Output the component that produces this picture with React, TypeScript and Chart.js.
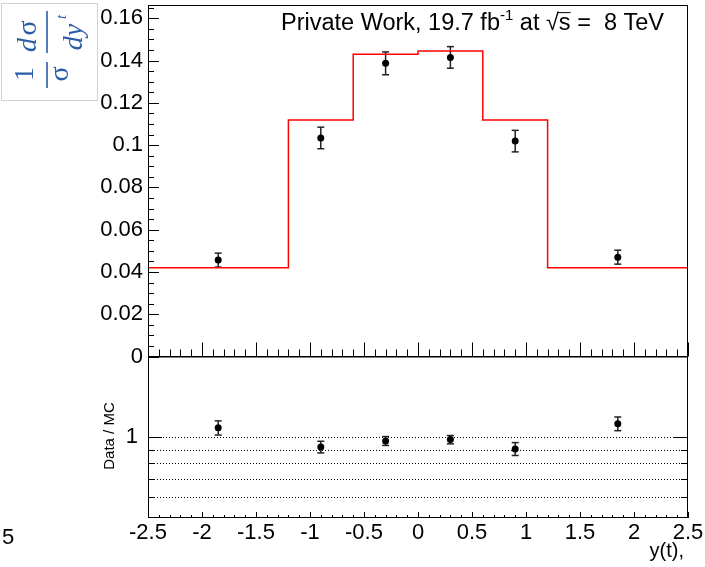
import React, { useEffect, useRef } from 'react';
import { Chart, registerables } from 'chart.js';

Chart.register(...registerables);

// ---- values ----
const binEdges = [-2.5, -1.2, -0.6, 0, 0.6, 1.2, 2.5];
const mcValues = [0.042, 0.1119, 0.143, 0.1445, 0.1119, 0.042];
const dataX = [-1.85, -0.9, -0.3, 0.3, 0.9, 1.85];
const dataValues = [0.0456, 0.1034, 0.1387, 0.1415, 0.1019, 0.047];
const dataErrors = [0.0033, 0.0051, 0.0054, 0.0051, 0.0051, 0.0033];
const ratioValues = [1.085, 0.92, 0.969, 0.98, 0.905, 1.124];
const ratioErrors = [0.066, 0.046, 0.037, 0.035, 0.05, 0.066];
const ratioGridLines = [0.6, 0.7, 0.8, 0.9, 1.0];
const yTickValues = [0, 0.02, 0.04, 0.06, 0.08, 0.1, 0.12, 0.14, 0.16];
const xTickValues = [-2.5, -2, -1.5, -1, -0.5, 0, 0.5, 1, 1.5, 2, 2.5];

// ---- layout ----
const W = 705;
const H = 567;
const FRAME_LEFT = 148;
const FRAME_RIGHT = 688;
const TOP_Y = 5;
const SPLIT_Y = 356.5;
const BOTTOM_Y = 518;
const SANS = '"Liberation Sans", Arial, Helvetica, sans-serif';
const SERIF = '"Liberation Serif", "DejaVu Serif", serif';

const fmt = (v: number) => String(Number(v.toFixed(3)));

function line(ctx: CanvasRenderingContext2D, x1: number, y1: number, x2: number, y2: number) {
  ctx.beginPath();
  ctx.moveTo(x1, y1);
  ctx.lineTo(x2, y2);
  ctx.stroke();
}

function drawErrorBars(chart: any, xs: number[], ys: number[], errs: number[]) {
  const ctx = chart.ctx as CanvasRenderingContext2D;
  const sx = chart.scales.x;
  const sy = chart.scales.y;
  ctx.save();
  ctx.strokeStyle = '#222';
  ctx.lineWidth = 1.5;
  for (let i = 0; i < xs.length; i++) {
    const px = sx.getPixelForValue(xs[i]);
    const lo = sy.getPixelForValue(ys[i] - errs[i]);
    const hi = sy.getPixelForValue(ys[i] + errs[i]);
    line(ctx, px, lo, px, hi);
    line(ctx, px - 3.5, lo, px + 3.5, lo);
    line(ctx, px - 3.5, hi, px + 3.5, hi);
  }
  ctx.restore();
}

function drawXTicks(ctx: CanvasRenderingContext2D, sx: any, yBase: number, major: number, minor: number) {
  for (let i = 0; i <= 50; i++) {
    const v = -2.5 + i * 0.1;
    const px = Math.round(sx.getPixelForValue(v)) + 0.5;
    const len = i % 5 === 0 ? major : minor;
    line(ctx, px, yBase, px, yBase - len);
  }
}

function drawTitle(ctx: CanvasRenderingContext2D) {
  const size = 23.5;
  const main = `${size}px ${SANS}`;
  const sup = `${Math.round(size * 0.62)}px ${SANS}`;
  const pieces: { t: string; f: string; dy: number; over?: boolean }[] = [
    { t: 'Private Work, 19.7 fb', f: main, dy: 0 },
    { t: '-1', f: sup, dy: -size * 0.42 },
    { t: ' at ', f: main, dy: 0 },
    { t: '\u221A', f: main, dy: 0 },
    { t: 's', f: main, dy: 0, over: true },
    { t: ' =  8 TeV', f: main, dy: 0 },
  ];
  ctx.save();
  ctx.fillStyle = '#000';
  ctx.textBaseline = 'alphabetic';
  ctx.textAlign = 'left';
  let total = 0;
  for (const p of pieces) {
    ctx.font = p.f;
    total += ctx.measureText(p.t).width;
  }
  let x = 664 - total;
  const base = 30;
  for (const p of pieces) {
    ctx.font = p.f;
    ctx.fillText(p.t, x, base + p.dy);
    const w = ctx.measureText(p.t).width;
    if (p.over) {
      ctx.strokeStyle = '#000';
      ctx.lineWidth = 1;
      line(ctx, x - 1, base - size * 0.74, x + w, base - size * 0.74);
    }
    x += w;
  }
  ctx.restore();
}

function drawYLabel(ctx: CanvasRenderingContext2D) {
  ctx.save();
  ctx.strokeStyle = '#d2d2d2';
  ctx.lineWidth = 1;
  ctx.strokeRect(1.5, 3.5, 96, 97);
  // rotated frame: local (lx, ly) -> page (ly, 100 - lx)
  ctx.translate(0, 100);
  ctx.rotate(-Math.PI / 2);
  const blue = '#2a5ca6';
  ctx.fillStyle = blue;
  ctx.strokeStyle = blue;
  ctx.lineWidth = 1.6;
  ctx.textBaseline = 'alphabetic';
  ctx.textAlign = 'center';
  // 1 / sigma
  ctx.font = `28px ${SERIF}`;
  ctx.fillText('1', 26, 33);
  line(ctx, 12, 47, 38, 47);
  ctx.fillText('\u03C3', 26, 68);
  // d sigma / d y^t
  ctx.font = `italic 28px ${SERIF}`;
  ctx.fillText('d', 55, 36);
  ctx.font = `28px ${SERIF}`;
  ctx.fillText('\u03C3', 72, 36);
  line(ctx, 47, 47, 89, 47);
  ctx.font = `italic 28px ${SERIF}`;
  ctx.fillText('dy', 63, 82);
  ctx.font = `italic 15px ${SERIF}`;
  ctx.fillText('t', 83, 66);
  ctx.restore();
}

const topPanelPlugin = {
  id: 'topPanel',
  beforeDatasetsDraw(chart: any) {
    drawErrorBars(chart, dataX, dataValues, dataErrors);
  },
  afterDraw(chart: any) {
    const ctx = chart.ctx as CanvasRenderingContext2D;
    const { left, right, top, bottom } = chart.chartArea;
    const sx = chart.scales.x;
    const sy = chart.scales.y;
    ctx.save();
    ctx.strokeStyle = '#000';
    ctx.lineWidth = 1;
    ctx.strokeRect(left + 0.5, top + 0.5, right - left - 1, bottom - top);
    // y ticks: major every 0.02, minor every 0.005
    for (let i = 0; i * 0.005 <= sy.max + 1e-9; i++) {
      const py = Math.round(sy.getPixelForValue(i * 0.005)) + 0.5;
      const len = i % 4 === 0 ? 11 : 6;
      line(ctx, left, py, left + len, py);
    }
    drawXTicks(ctx, sx, bottom, 14, 7);
    ctx.restore();
    drawTitle(ctx);
    drawYLabel(ctx);
  },
};

const ratioPanelPlugin = {
  id: 'ratioPanel',
  beforeDatasetsDraw(chart: any) {
    const ctx = chart.ctx as CanvasRenderingContext2D;
    const { left, right } = chart.chartArea;
    const sy = chart.scales.y;
    ctx.save();
    ctx.strokeStyle = '#000';
    ctx.lineWidth = 1;
    ctx.setLineDash([1, 2]);
    for (const v of ratioGridLines) {
      const py = Math.round(sy.getPixelForValue(v)) + 0.5;
      line(ctx, left, py, right, py);
    }
    ctx.restore();
    drawErrorBars(chart, dataX, ratioValues, ratioErrors);
  },
  afterDraw(chart: any) {
    const ctx = chart.ctx as CanvasRenderingContext2D;
    const { left, right, top, bottom } = chart.chartArea;
    const sx = chart.scales.x;
    const sy = chart.scales.y;
    ctx.save();
    ctx.strokeStyle = '#000';
    ctx.lineWidth = 1;
    ctx.strokeRect(left + 0.5, top, right - left - 1, bottom - top - 0.5);
    for (const v of ratioGridLines) {
      const py = Math.round(sy.getPixelForValue(v)) + 0.5;
      const isOne = v === 1;
      line(ctx, left, py, left + (isOne ? 14 : 6), py);
      line(ctx, right, py, right - (isOne ? 15 : 7), py);
    }
    drawXTicks(ctx, sx, bottom, 6, 3);
    // axis titles and stray label
    ctx.fillStyle = '#000';
    ctx.font = `15px ${SANS}`;
    ctx.textAlign = 'center';
    ctx.textBaseline = 'middle';
    ctx.save();
    ctx.translate(110, 436);
    ctx.rotate(-Math.PI / 2);
    ctx.fillText('Data / MC', 0, 0);
    ctx.restore();
    ctx.font = `20px ${SANS}`;
    ctx.textAlign = 'right';
    ctx.textBaseline = 'alphabetic';
    ctx.fillText('y(t),', 684, 557);
    ctx.font = `22px ${SANS}`;
    ctx.textAlign = 'left';
    ctx.textBaseline = 'middle';
    ctx.fillText('5', 2, 538);
    ctx.restore();
  },
};

const tickFont = { family: SANS, size: 22 };

export default function App() {
  const topRef = useRef<HTMLCanvasElement>(null);
  const ratioRef = useRef<HTMLCanvasElement>(null);

  useEffect(() => {
    document.body.style.margin = '0';
    const mcPoints = binEdges.map((x, i) => ({ x, y: mcValues[Math.min(i, mcValues.length - 1)] }));
    const dataPoints = dataX.map((x, i) => ({ x, y: dataValues[i] }));
    const ratioPoints = dataX.map((x, i) => ({ x, y: ratioValues[i] }));

    const topChart = new Chart(topRef.current!, {
      type: 'scatter',
      data: {
        datasets: [
          {
            type: 'line',
            data: mcPoints,
            stepped: true,
            borderColor: '#ff0000',
            borderWidth: 1.5,
            pointRadius: 0,
            fill: false,
          } as any,
          {
            data: dataPoints,
            pointRadius: 3.5,
            backgroundColor: '#000',
            borderWidth: 0,
          },
        ],
      },
      options: {
        responsive: false,
        animation: false,
        devicePixelRatio: 1,
        layout: { padding: { left: 0, right: W - FRAME_RIGHT, top: TOP_Y, bottom: H - SPLIT_Y } },
        plugins: { legend: { display: false }, tooltip: { enabled: false } },
        scales: {
          x: { type: 'linear', min: -2.5, max: 2.5, display: false },
          y: {
            type: 'linear',
            min: 0,
            max: 0.1663,
            grid: { display: false, drawTicks: false },
            border: { display: false },
            afterBuildTicks: (s: any) => {
              s.ticks = yTickValues.map((value) => ({ value }));
            },
            afterFit: (s: any) => {
              s.width = FRAME_LEFT;
              s.paddingTop = 0;
              s.paddingBottom = 0;
            },
            ticks: {
              padding: 5,
              color: '#000',
              font: tickFont,
              callback: (v: any) => fmt(Number(v)),
            },
          },
        },
      },
      plugins: [topPanelPlugin],
    });

    const ratioChart = new Chart(ratioRef.current!, {
      type: 'scatter',
      data: {
        datasets: [
          {
            data: ratioPoints,
            pointRadius: 3.5,
            backgroundColor: '#000',
            borderWidth: 0,
          },
        ],
      },
      options: {
        responsive: false,
        animation: false,
        devicePixelRatio: 1,
        layout: { padding: { left: 0, right: W - FRAME_RIGHT, top: SPLIT_Y, bottom: 0 } },
        plugins: { legend: { display: false }, tooltip: { enabled: false } },
        scales: {
          x: {
            type: 'linear',
            min: -2.5,
            max: 2.5,
            grid: { display: false, drawTicks: false },
            border: { display: false },
            afterBuildTicks: (s: any) => {
              s.ticks = xTickValues.map((value) => ({ value }));
            },
            afterFit: (s: any) => {
              s.height = H - BOTTOM_Y;
              s.paddingLeft = 0;
              s.paddingRight = 0;
            },
            ticks: {
              padding: 2,
              maxRotation: 0,
              autoSkip: false,
              color: '#000',
              font: tickFont,
              callback: (v: any) => fmt(Number(v)),
            },
          },
          y: {
            type: 'logarithmic',
            min: 0.5,
            max: 2,
            grid: { display: false, drawTicks: false },
            border: { display: false },
            afterBuildTicks: (s: any) => {
              s.ticks = [{ value: 1 }];
            },
            afterFit: (s: any) => {
              s.width = FRAME_LEFT;
              s.paddingTop = 0;
              s.paddingBottom = 0;
            },
            ticks: {
              padding: 10,
              color: '#000',
              font: tickFont,
              callback: (v: any) => fmt(Number(v)),
            },
          },
        },
      },
      plugins: [ratioPanelPlugin],
    });

    return () => {
      topChart.destroy();
      ratioChart.destroy();
    };
  }, []);

  const canvasStyle: React.CSSProperties = { position: 'absolute', left: 0, top: 0 };
  return (
    <div style={{ position: 'relative', width: W, height: H, background: '#fff' }}>
      <canvas ref={topRef} width={W} height={H} style={canvasStyle} />
      <canvas ref={ratioRef} width={W} height={H} style={canvasStyle} />
    </div>
  );
}
